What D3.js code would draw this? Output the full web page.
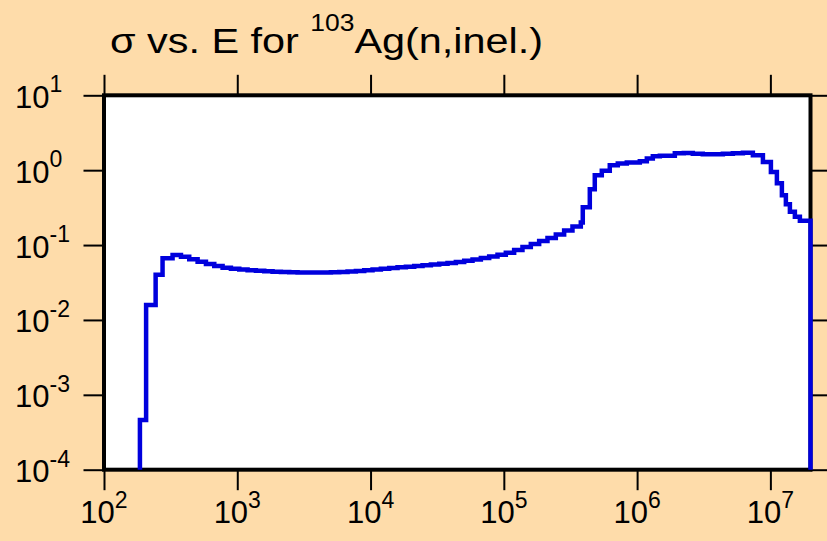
<!DOCTYPE html>
<html>
<head>
<meta charset="utf-8">
<script src="https://cdn.jsdelivr.net/npm/d3@7"></script>
<style>
    body { margin: 0; }
    svg { display: block; font-family: "Liberation Sans", Arial, sans-serif; }
</style>
</head>
<body>
<script>
const width = 827,
    height = 541

const plotLeft = 104, plotRight = 810.5, plotTop = 95.3, plotBottom = 469.7

// incident energy (eV), step starts
const energy = [186, 186, 207, 244, 275,
    327, 378, 436, 504, 582, 672, 776, 896, 1035, 1195, 1380, 1594, 1840, 2125, 2454, 2834,
    3273, 3780, 4365, 5040, 5820, 6722, 7762, 8964, 10350, 11950, 13800, 15940, 18410, 21260,
    24550, 28350, 32740, 37810, 43660, 50420, 58230, 67240, 77650, 89670, 103500, 119500,
    138000, 159400, 184100, 212600, 245500, 283500, 327400, 378100,
    391200, 441700, 481300, 543300, 623700, 716400, 836900, 1048000, 1183000, 1312000,
    1481000, 1919000, 2240000, 2619000, 3110000, 3700000, 4400000, 5230000, 6220000,
    7390000, 8790000, 10090000, 11190000, 12200000, 13070000, 14010000, 15270000,
    16650000, 20000000]

// cross section (b)
const sigma = [0, 4.6e-4, 0.0158, 0.040, 0.0666,
    0.0736, 0.0698, 0.0645, 0.0599, 0.0558, 0.0525, 0.0498, 0.0482, 0.0471, 0.0461, 0.0453,
    0.0446, 0.0441, 0.0437, 0.0433, 0.0430, 0.0429, 0.0429, 0.0430, 0.0433, 0.0437, 0.0442,
    0.0450, 0.0460, 0.0471, 0.0483, 0.0493, 0.0504, 0.0514, 0.0525, 0.0536, 0.0548, 0.0561,
    0.0575, 0.0593, 0.0615, 0.0641, 0.0671, 0.0702, 0.0743, 0.0792, 0.0858, 0.0940, 0.1031,
    0.1130, 0.1239, 0.138, 0.156, 0.1765, 0.1995,
    0.321, 0.558, 0.858, 0.979, 1.166, 1.228, 1.267, 1.318, 1.432, 1.537,
    1.56, 1.685, 1.701, 1.66, 1.634, 1.634, 1.66, 1.685, 1.711,
    1.585, 1.29, 0.949, 0.671, 0.464, 0.352, 0.278, 0.238,
    0.211, 0]

const xTicks = [1e2, 1e3, 1e4, 1e5, 1e6, 1e7]
const xExp = ["2", "3", "4", "5", "6", "7"]
const yTicks = [1e1, 1e0, 1e-1, 1e-2, 1e-3, 1e-4]
const yExp = ["1", "0", "-1", "-2", "-3", "-4"]

const svg = d3.select("body")
    .append("svg")
    .attr("width", width)
    .attr("height", height)

svg.append("rect")
    .attr("width", width)
    .attr("height", height)
    .attr("fill", "#fedcaa")

const x = d3.scaleLog()
    .domain([1e2, 2e7])
    .range([plotLeft, plotRight])

const y = d3.scaleLog()
    .domain([1e-4, 1e1])
    .range([plotBottom, plotTop])
    .clamp(true)

svg.append("rect")
    .attr("x", plotLeft)
    .attr("y", plotTop)
    .attr("width", plotRight - plotLeft)
    .attr("height", plotBottom - plotTop)
    .attr("fill", "white")
    .attr("stroke", "black")
    .attr("stroke-width", 4)

function styleAxis(g) {
    g.select(".domain").remove()
    g.selectAll(".tick line")
        .attr("stroke", "black")
        .attr("stroke-width", 2)
    g.selectAll(".tick text").remove()
}

svg.append("g")
    .attr("transform", `translate(0, ${plotBottom})`)
    .call(d3.axisBottom(x).tickValues(xTicks).tickSize(20.5).tickSizeOuter(0))
    .call(styleAxis)

svg.append("g")
    .attr("transform", `translate(0, ${plotTop})`)
    .call(d3.axisTop(x).tickValues(xTicks).tickSize(20.5).tickSizeOuter(0))
    .call(styleAxis)

svg.append("g")
    .attr("transform", `translate(${plotLeft}, 0)`)
    .call(d3.axisLeft(y).tickValues(yTicks).tickSize(20.5).tickSizeOuter(0))
    .call(styleAxis)

svg.append("g")
    .attr("transform", `translate(${plotRight}, 0)`)
    .call(d3.axisRight(y).tickValues(yTicks).tickSize(20.5).tickSizeOuter(0))
    .call(styleAxis)

// tick labels 10^n
const xLab = svg.selectAll(".xlab")
    .data(xTicks)
    .join("text")
    .attr("class", "xlab")
    .attr("x", d => x(d))
    .attr("y", plotBottom + 53.5)
    .attr("text-anchor", "middle")
    .attr("font-size", 31)
xLab.append("tspan").text("10")
xLab.append("tspan")
    .attr("dy", -15.5)
    .attr("font-size", 23)
    .text((d, i) => xExp[i])

const yLab = svg.selectAll(".ylab")
    .data(yTicks)
    .join("text")
    .attr("class", "ylab")
    .attr("x", 15)
    .attr("y", d => y(d) + 12.5)
    .attr("font-size", 31)
yLab.append("tspan").text("10")
yLab.append("tspan")
    .attr("dy", -15.5)
    .attr("font-size", 23)
    .text((d, i) => yExp[i])

const line = d3.line()
    .x((d, i) => x(energy[i]))
    .y((d, i) => y(sigma[i]))
    .curve(d3.curveStepAfter)

svg.append("path")
    .attr("d", line(energy))
    .attr("fill", "none")
    .attr("stroke", "#0000dd")
    .attr("stroke-width", 4.5)

// title is a bit wider than the font, so stretch it
const title = svg.append("text")
    .attr("transform", "translate(110, 53.3) scale(1.15, 1)")
    .attr("font-size", 36)
title.append("tspan").text("σ vs. E for ")
title.append("tspan")
    .attr("dy", -22.6)
    .attr("font-size", 23)
    .text("103")
title.append("tspan")
    .attr("dy", 22.6)
    .text("Ag(n,inel.)")
</script>
</body>
</html>
